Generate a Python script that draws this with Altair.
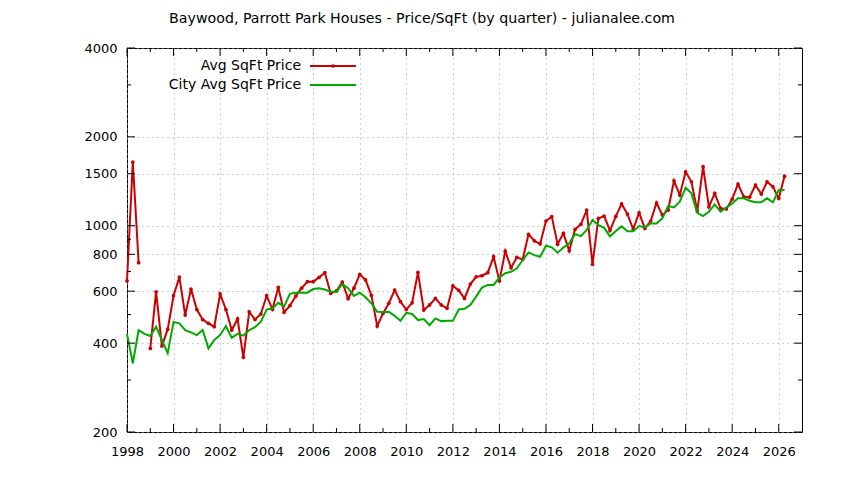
import altair as alt
import pandas as pd

TITLE = "Baywood, Parrott Park Houses - Price/SqFt (by quarter) - julianalee.com"
SERIES_NAMES = ["Avg SqFt Price", "City Avg SqFt Price"]
RED = "#cc0000"
GREEN = "#00aa00"

# quarterly positions (decimal years), 1998 Q1 .. 2026 Q2
YEARS = list(range(1998, 2027))
QUARTER_OFFSETS = [0.0, 0.25, 0.5, 0.75]

avg_price = [
    650, 1643, 749, None,
    384, 597, 391, 446,
    579, 670, 498, 610,
    520, 481, 467, 455,
    587, 520, 443, 483,
    358, 511, 481, 502,
    579, 521, 618, 509,
    536, 577, 614, 646,
    646, 668, 693, 590,
    601, 644, 566, 614,
    684, 655, 581, 457,
    505, 546, 605, 553,
    520, 548, 695, 518,
    539, 567, 539, 525,
    625, 604, 567, 634,
    671, 677, 693, 785,
    649, 820, 720, 781,
    769, 935, 889, 867,
    1037, 1073, 866, 942,
    822, 972, 1011, 1130,
    740, 1059, 1078, 963,
    1075, 1185, 1095, 972,
    1106, 979, 1037, 1196,
    1086, 1130, 1420, 1270,
    1523, 1409, 1121, 1584,
    1159, 1287, 1145, 1140,
    1230, 1384, 1253, 1249,
    1373, 1280, 1409, 1356,
    1238, 1472,
]

city_price = [
    430, 342, 443, 430,
    423, 455, 410, 370,
    472, 467, 443, 435,
    426, 443, 384, 410,
    426, 457, 417, 430,
    424, 443, 453, 473,
    520, 525, 548, 532,
    588, 593, 593, 593,
    610, 614, 608, 597,
    597, 634, 614, 578,
    593, 572, 546, 511,
    510, 511, 495, 476,
    507, 502, 479, 483,
    460, 485, 475, 476,
    476, 520, 523, 539,
    575, 617, 630, 630,
    668, 690, 698, 717,
    765, 812, 795, 785,
    855, 845, 810, 843,
    871, 937, 922, 967,
    1045, 1005, 983, 920,
    960, 995, 958, 958,
    997, 987, 1018, 1018,
    1059, 1166, 1153, 1206,
    1345, 1287, 1106, 1078,
    1115, 1181, 1115, 1153,
    1190, 1238, 1238, 1215,
    1200, 1200, 1238, 1200,
    1321, 1321,
]

Y_MAJOR = [200, 400, 600, 800, 1000, 1500, 2000, 4000]
Y_MINOR = [300, 500, 700, 900, 3000]
X_LABEL_YEARS = list(range(1998, 2027, 2))
X_GRID_YEARS = list(range(1998, 2028))

quarters = [y + q for y in YEARS for q in QUARTER_OFFSETS][: len(avg_price)]

# build tables
seg = 0
red_rows = []
for t, v in zip(quarters, avg_price):
    if v is None:
        seg += 1
        continue
    red_rows.append({"t": t, "v": v, "seg": seg})
red_df = pd.DataFrame(red_rows)
green_df = pd.DataFrame({"t": quarters, "v": city_price})

W, H = 675, 384
FONT = "DejaVu Sans"
GRID_COLOR = "#a0a0a0"

xscale = alt.Scale(domain=[1998, 2027], nice=False, zero=False)
yscale = alt.Scale(type="log", domain=[200, 4000], nice=False)

x_axis = alt.Axis(
    values=X_GRID_YEARS, format="d", title=None,
    labelExpr="datum.value % 2 == 0 && datum.value < 2027 ? datum.label : ''",
    grid=True, ticks=False, domain=False, labelPadding=13, labelFlush=False,
    labelFont=FONT, labelFontSize=13, labelColor="black", labelOverlap=False,
    gridColor=GRID_COLOR, gridDash=[1, 4], gridWidth=1, gridOpacity=1,
)
y_axis = alt.Axis(
    values=Y_MAJOR, format="d", title=None, grid=True, ticks=False,
    domain=False, labelPadding=10, labelFlush=False, labelOverlap=False,
    labelFont=FONT, labelFontSize=13, labelColor="black",
    gridColor=GRID_COLOR, gridDash=[1, 4], gridWidth=1, gridOpacity=1,
)

red_line = alt.Chart(red_df).mark_line(
    color=RED, strokeWidth=2,
    point=alt.OverlayMarkDef(filled=True, size=14, color=RED),
).encode(
    x=alt.X("t:Q", scale=xscale, axis=x_axis),
    y=alt.Y("v:Q", scale=yscale, axis=y_axis),
    detail="seg:N",
)

green_line = alt.Chart(green_df).mark_line(color=GREEN, strokeWidth=2).encode(
    x=alt.X("t:Q", scale=xscale),
    y=alt.Y("v:Q", scale=yscale),
)

# inward ticks (mirrored on all sides)
xmaj = pd.DataFrame({"t": X_LABEL_YEARS})
xmin = pd.DataFrame({"t": [y for y in X_GRID_YEARS if y % 2 == 1 and y < 2027]})
ymaj = pd.DataFrame({"v": Y_MAJOR})
ymin = pd.DataFrame({"v": Y_MINOR})

def xticks(df, length):
    bot = alt.Chart(df).mark_rule(color="black", strokeWidth=1).encode(
        x=alt.X("t:Q", scale=xscale), y=alt.value(H), y2=alt.value(H - length))
    top = alt.Chart(df).mark_rule(color="black", strokeWidth=1).encode(
        x=alt.X("t:Q", scale=xscale), y=alt.value(0), y2=alt.value(length))
    return bot + top

def yticks(df, length):
    left = alt.Chart(df).mark_rule(color="black", strokeWidth=1).encode(
        y=alt.Y("v:Q", scale=yscale), x=alt.value(0), x2=alt.value(length))
    right = alt.Chart(df).mark_rule(color="black", strokeWidth=1).encode(
        y=alt.Y("v:Q", scale=yscale), x=alt.value(W), x2=alt.value(W - length))
    return left + right

one = pd.DataFrame({"a": [0]})
LEG_TEXT_X = 174
LEG_LINE_X1, LEG_LINE_X2 = 183, 229
LEG_Y = [18, 37]

title_text = alt.Chart(one).mark_text(
    text=TITLE, align="center", baseline="alphabetic", font=FONT, fontSize=14.2, color="black"
).encode(x=alt.value(295), y=alt.value(-25))

leg_text1 = alt.Chart(one).mark_text(
    text=SERIES_NAMES[0], align="right", baseline="middle", font=FONT, fontSize=14, color="black"
).encode(x=alt.value(LEG_TEXT_X), y=alt.value(LEG_Y[0]))
leg_text2 = alt.Chart(one).mark_text(
    text=SERIES_NAMES[1], align="right", baseline="middle", font=FONT, fontSize=14, color="black"
).encode(x=alt.value(LEG_TEXT_X), y=alt.value(LEG_Y[1]))
leg_line1 = alt.Chart(one).mark_rule(color=RED, strokeWidth=2).encode(
    x=alt.value(LEG_LINE_X1), x2=alt.value(LEG_LINE_X2), y=alt.value(LEG_Y[0]))
leg_pt1 = alt.Chart(one).mark_point(filled=True, size=14, color=RED, opacity=1).encode(
    x=alt.value((LEG_LINE_X1 + LEG_LINE_X2) / 2), y=alt.value(LEG_Y[0]))
leg_line2 = alt.Chart(one).mark_rule(color=GREEN, strokeWidth=2).encode(
    x=alt.value(LEG_LINE_X1), x2=alt.value(LEG_LINE_X2), y=alt.value(LEG_Y[1]))

chart = alt.layer(
    red_line, green_line,
    xticks(xmaj, 8), xticks(xmin, 4), yticks(ymaj, 8), yticks(ymin, 4),
    title_text, leg_text1, leg_text2, leg_line1, leg_pt1, leg_line2,
).properties(
    width=W, height=H,
    autosize=alt.AutoSizeParams(type="none"),
    padding={"left": 119, "top": 40, "right": 34, "bottom": 40},
    background="white",
).configure_view(
    stroke="black", strokeWidth=1,
)

chart.save("out.html", embed_options={"renderer": "svg", "actions": False})
